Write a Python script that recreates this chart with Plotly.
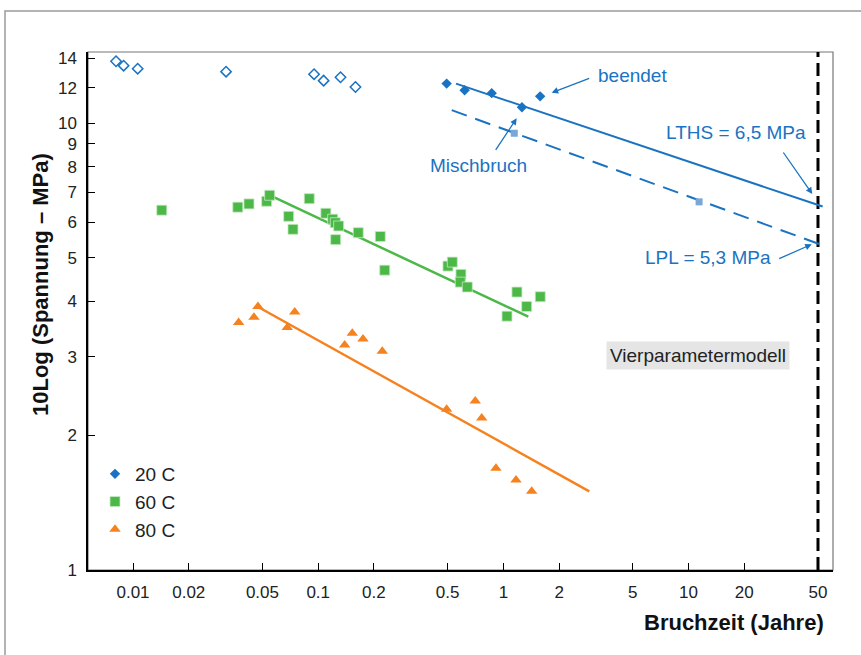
import plotly.graph_objects as go

# ---------------- data ----------------
open20_x = [0.0081, 0.0089, 0.0106, 0.0318, 0.095, 0.107, 0.132, 0.159]
open20_y = [13.77, 13.46, 13.25, 13.05, 12.88, 12.46, 12.68, 12.06]

fill20_x = [0.494, 0.618, 0.865, 1.26, 1.58]
fill20_y = [12.27, 11.86, 11.68, 10.86, 11.49]

misch_x = [1.145, 11.4]
misch_y = [9.50, 6.67]

lths_x = [0.555, 53.0]
lths_y = [12.27, 6.51]
lpl_x = [0.526, 51.2]
lpl_y = [10.7, 5.36]

g60_x = [0.0143, 0.0368, 0.0423, 0.0527, 0.0547, 0.0895, 0.0693, 0.0731, 0.110,
         0.1198, 0.1237, 0.129, 0.1243, 0.1646, 0.2164, 0.2287, 0.502, 0.530,
         0.590, 0.585, 0.6385, 1.184, 1.336, 1.046, 1.582]
g60_y = [6.39, 6.49, 6.60, 6.69, 6.90, 6.78, 6.19, 5.79, 6.29,
         6.10, 5.99, 5.89, 5.49, 5.69, 5.58, 4.69, 4.79, 4.89,
         4.59, 4.41, 4.30, 4.19, 3.89, 3.70, 4.09]
g60_fit_x = [0.0568, 1.363]
g60_fit_y = [6.85, 3.69]

o80_x = [0.0372, 0.0450, 0.0473, 0.0747, 0.0681, 0.1528, 0.1746, 0.139, 0.2219,
         0.494, 0.705, 0.764, 0.912, 1.170, 1.422]
o80_y = [3.58, 3.68, 3.89, 3.78, 3.49, 3.39, 3.29, 3.19, 3.09,
         2.29, 2.39, 2.19, 1.69, 1.59, 1.50]
o80_fit_x = [0.0469, 2.91]
o80_fit_y = [3.89, 1.50]

limit_x = [50, 50]
limit_y = [1.0, 14.5]

x_ticks = [0.01, 0.02, 0.05, 0.1, 0.2, 0.5, 1, 2, 5, 10, 20, 50]
x_tick_labels = ["0.01", "0.02", "0.05", "0.1", "0.2", "0.5", "1", "2", "5", "10", "20", "50"]
y_ticks = [1, 2, 3, 4, 5, 6, 7, 8, 9, 10, 12, 14]
y_tick_labels = [str(v) for v in y_ticks]

BLUE = "#1a73c2"
LBLUE = "#7aa6d8"
GREEN = "#4cb848"
ORANGE = "#f5821f"
FONT = "Liberation Sans, Arial, sans-serif"

fig = go.Figure()

fig.add_trace(go.Scatter(x=limit_x, y=limit_y, mode="lines",
                         line=dict(color="black", width=3, dash="13px,6px"),
                         showlegend=False, hoverinfo="skip"))
fig.add_trace(go.Scatter(x=lths_x, y=lths_y, mode="lines",
                         line=dict(color=BLUE, width=2), showlegend=False))
fig.add_trace(go.Scatter(x=lpl_x, y=lpl_y, mode="lines",
                         line=dict(color=BLUE, width=2, dash="16px,9px"), showlegend=False))
fig.add_trace(go.Scatter(x=g60_fit_x, y=g60_fit_y, mode="lines",
                         line=dict(color=GREEN, width=2.5), showlegend=False))
fig.add_trace(go.Scatter(x=o80_fit_x, y=o80_fit_y, mode="lines",
                         line=dict(color=ORANGE, width=2.5), showlegend=False))

fig.add_trace(go.Scatter(x=open20_x, y=open20_y, mode="markers",
                         marker=dict(symbol="diamond-open", size=8, color=BLUE,
                                     line=dict(width=1.5, color=BLUE)),
                         showlegend=False))
fig.add_trace(go.Scatter(x=misch_x, y=misch_y, mode="markers",
                         marker=dict(symbol="square", size=7, color=LBLUE),
                         showlegend=False))
fig.add_trace(go.Scatter(x=fill20_x, y=fill20_y, mode="markers", name="20 C",
                         marker=dict(symbol="diamond", size=8, color=BLUE)))
fig.add_trace(go.Scatter(x=g60_x, y=g60_y, mode="markers", name="60 C",
                         marker=dict(symbol="square", size=10, color=GREEN,
                                     line=dict(width=0.8, color="#c8e8c4"))))
fig.add_trace(go.Scatter(x=o80_x, y=o80_y, mode="markers", name="80 C",
                         marker=dict(symbol="triangle-up", size=10, color=ORANGE)))

L, R, T, B = 88, 28, 52, 85
W, H = 861, 655
pw, ph = W - L - R, H - T - B


def px(xp):
    return (xp - L) / pw


def py(yp):
    return (H - B - yp) / ph


def label(text, xc, yc, color=BLUE, **kw):
    d = dict(text=text, x=px(xc), y=py(yc), xref="paper", yref="paper",
             xanchor="center", yanchor="middle", showarrow=False,
             font=dict(size=19, color=color))
    d.update(kw)
    return d


def arrow(hx, hy, ax, ay):
    return dict(text="", x=px(hx), y=py(hy), xref="paper", yref="paper",
                ax=ax, ay=ay, showarrow=True, arrowhead=2, arrowsize=1,
                arrowwidth=1.3, arrowcolor=BLUE)


annotations = [
    label("beendet", 632, 75),
    arrow(551.7, 92.7, 39, -15),
    label("Mischbruch", 478.5, 165),
    arrow(516.7, 118.3, -22, 33),
    label("LTHS = 6,5 MPa", 736, 132),
    arrow(812.3, 194, -30, -43),
    label("LPL = 5,3 MPa", 707.5, 257),
    arrow(811.7, 244.3, -34, 15),
    label("Vierparametermodell", 697.5, 356, color="#222222", bgcolor="#e5e5e5",
          borderpad=3),
    dict(text="<b>Bruchzeit (Jahre)</b>", x=px(826), y=py(622), xref="paper", yref="paper",
         xanchor="right", yanchor="middle", showarrow=False,
         font=dict(size=22, color="#111111")),
    dict(text="<b>10Log (Spannung – MPa)</b>", x=px(40), y=py(285), xref="paper",
         yref="paper", textangle=-90, xanchor="center", yanchor="middle",
         showarrow=False, font=dict(size=22, color="#111111")),
]

shapes = [
    dict(type="rect", xref="paper", yref="paper", x0=px(5), y0=py(700), x1=px(900), y1=py(11),
         line=dict(color="#9a9a9a", width=1.5), layer="below"),
    dict(type="rect", xref="paper", yref="paper", x0=0, y0=0, x1=1, y1=1,
         line=dict(color="#777777", width=1.2), layer="below"),
]

fig.update_layout(
    width=W, height=H,
    margin=dict(l=L, r=R, t=T, b=B),
    paper_bgcolor="white", plot_bgcolor="white",
    font=dict(family=FONT, size=17, color="#222222"),
    showlegend=True,
    legend=dict(x=px(95), y=py(455), xanchor="left", yanchor="top",
                font=dict(size=19, color="#222222"), bgcolor="rgba(0,0,0,0)",
                tracegroupgap=0, itemwidth=30),
    annotations=annotations,
    shapes=shapes,
)

fig.update_xaxes(type="log", range=[-2.243, 1.780], tickvals=x_ticks, ticktext=x_tick_labels,
                 ticks="inside", ticklen=7, tickwidth=1, tickcolor="black",
                 showline=True, linecolor="black", linewidth=2, showgrid=False,
                 zeroline=False, tickfont=dict(size=17, color="#222222"),
                 ticklabelstandoff=6)
fig.update_yaxes(type="log", range=[0, 1.1596], tickvals=y_ticks, ticktext=y_tick_labels,
                 ticks="inside", ticklen=7, tickwidth=1, tickcolor="black",
                 showline=True, linecolor="black", linewidth=1.5, showgrid=False,
                 zeroline=False, tickfont=dict(size=17, color="#222222"),
                 ticklabelstandoff=6)

fig.write_html("out.html")
